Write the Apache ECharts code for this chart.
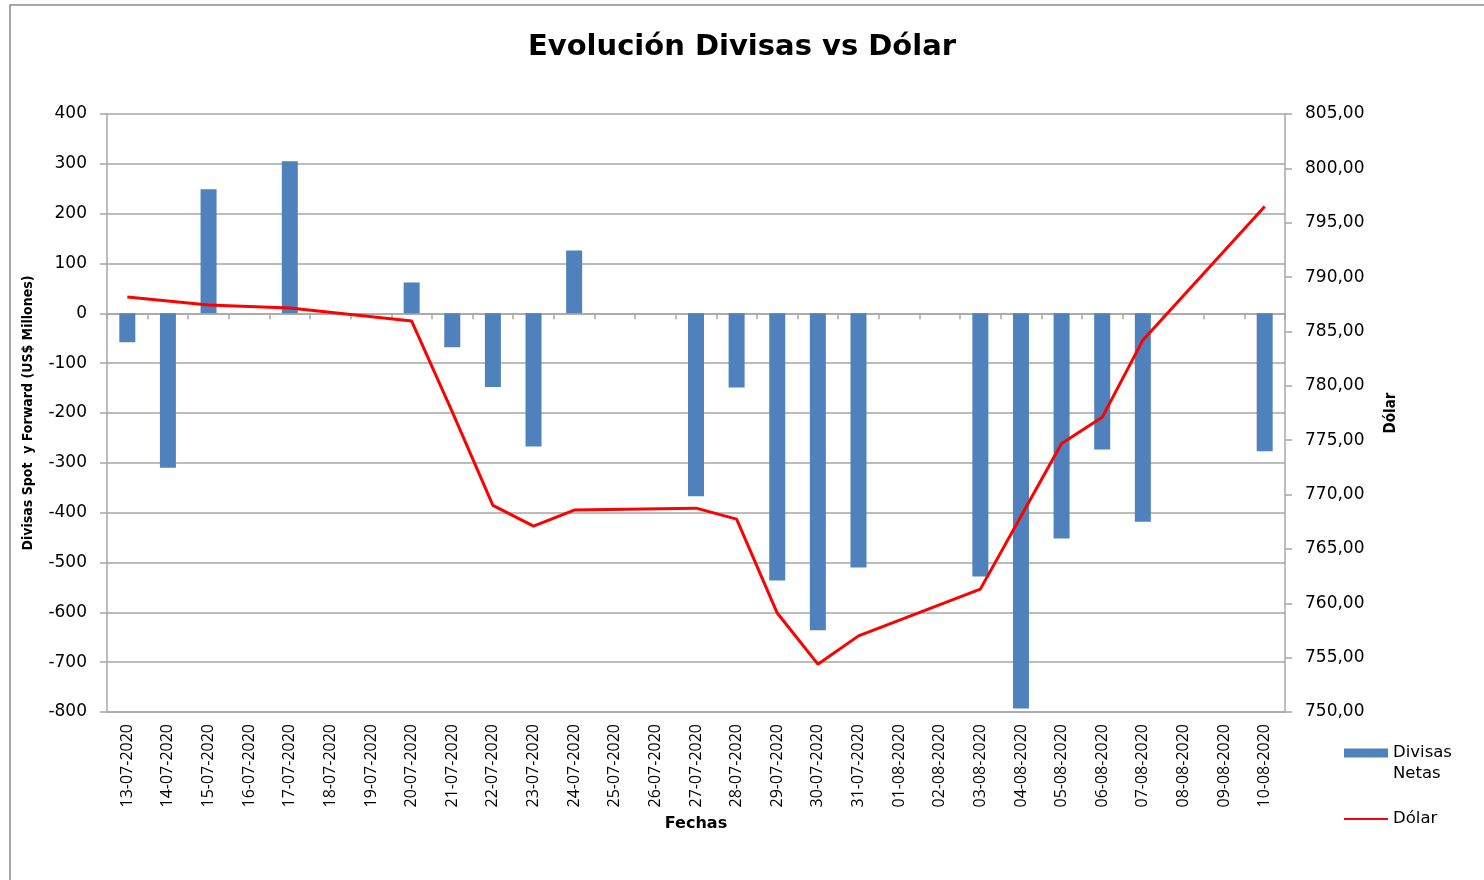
<!DOCTYPE html>
<html>
<head>
<meta charset="utf-8">
<script src="https://cdn.jsdelivr.net/npm/echarts@6/dist/echarts.min.js"></script>
<style>
  html, body { margin: 0; padding: 0; background: #fff; }
  #container { width: 1484px; height: 880px; }
</style>
</head>
<body>
<div id="container"></div>
<script>
// datos
var fechas = ['13-07-2020','14-07-2020','15-07-2020','16-07-2020','17-07-2020','18-07-2020','19-07-2020',
    '20-07-2020','21-07-2020','22-07-2020','23-07-2020','24-07-2020','25-07-2020','26-07-2020',
    '27-07-2020','28-07-2020','29-07-2020','30-07-2020','31-07-2020','01-08-2020','02-08-2020',
    '03-08-2020','04-08-2020','05-08-2020','06-08-2020','07-08-2020','08-08-2020','09-08-2020','10-08-2020'];
var divisasNetas = [-58, -310, 249, null, 305, null, null,
    62, -68, -148, -267, 126, null, null,
    -367, -149, -536, -636, -510, null, null,
    -528, -793, -452, -273, -418, null, null, -277];
var dolar = [788.17, 787.8, 787.43, null, 787.15, null, null,
    785.96, 777.6, 769.0, 767.1, 768.57, null, null,
    768.75, 767.74, 759.1, 754.4, 757.0, null, null,
    761.3, 768.0, 774.7, 777.1, 784.2, null, null, 796.5];

var gris = '#a6a6a6';
var fuente = 'DejaVu Sans';
var fuenteAngosta = '"DejaVu Sans Condensed", "Liberation Sans", sans-serif';

var myChart = echarts.init(document.getElementById('container'));
var option = {
    animation: false,
    textStyle: { fontFamily: fuente, color: '#000' },
    graphic: [
        {
            type: 'rect',
            shape: { x: 10, y: 5, width: 1490, height: 900 },
            style: { fill: 'none', stroke: '#8c8c8c', lineWidth: 1.5 },
            silent: true
        },
        {
            // segunda línea del texto de la leyenda
            type: 'text',
            left: 1393,
            top: 765,
            style: { text: 'Netas', fontFamily: fuente, fontSize: 16.5, fill: '#000' },
            silent: true
        }
    ],
    title: {
        text: 'Evolución Divisas vs Dólar',
        left: 'center',
        top: 28,
        textStyle: { fontFamily: fuente, fontWeight: 'bold', fontSize: 29, color: '#000' }
    },
    legend: {
        orient: 'vertical',
        left: 1339,
        top: 738,
        itemWidth: 44,
        itemHeight: 9,
        itemGap: 46,
        textStyle: { fontFamily: fuente, fontSize: 16.5, color: '#000', lineHeight: 20 },
        formatter: function (n) { return n === 'Divisas Netas' ? 'Divisas' : n; },
        data: [
            { name: 'Divisas Netas', icon: 'rect' },
            { name: 'Dólar', icon: 'path://M0,4 L44,4 L44,6 L0,6 Z' }
        ]
    },
    grid: { left: 107, right: 199, top: 114, bottom: 168 },
    xAxis: [
        {
            type: 'category',
            data: fechas,
            position: 'bottom',
            name: 'Fechas',
            nameLocation: 'middle',
            nameGap: 104,
            nameTextStyle: { fontFamily: fuente, fontWeight: 'bold', fontSize: 16, color: '#000' },
            axisLine: { onZero: false, lineStyle: { color: gris, width: 1.5 } },
            axisTick: { show: false },
            axisLabel: { interval: 0, rotate: 90, fontFamily: 'Open Sans', fontSize: 16, color: '#000', margin: 12 }
        },
        {
            type: 'category',
            data: fechas,
            position: 'bottom',
            axisLine: { onZero: true, lineStyle: { color: gris, width: 1.5 } },
            axisTick: { show: true, interval: 0, length: 6, lineStyle: { color: gris, width: 1.5 } },
            axisLabel: { show: false }
        }
    ],
    yAxis: [
        {
            type: 'value',
            min: -800,
            max: 400,
            interval: 100,
            name: 'Divisas Spot  y Forward (US$ Millones)',
            nameLocation: 'middle',
            nameGap: 72,
            nameTextStyle: { fontFamily: fuenteAngosta, fontWeight: 'bold', fontSize: 14, color: '#000' },
            axisLine: { show: true, lineStyle: { color: gris, width: 1.5 } },
            axisTick: { show: true, length: 7, lineStyle: { color: gris, width: 1.5 } },
            axisLabel: { fontFamily: fuente, fontSize: 17, color: '#000', margin: 20 },
            splitLine: { show: true, lineStyle: { color: gris, width: 1.5 } }
        },
        {
            type: 'value',
            min: 750,
            max: 805,
            interval: 5,
            name: 'Dólar',
            nameLocation: 'middle',
            nameGap: 99,
            nameRotate: 90,
            nameTextStyle: { fontFamily: fuenteAngosta, fontWeight: 'bold', fontSize: 15, color: '#000' },
            axisLine: { show: true, lineStyle: { color: gris, width: 1.5 } },
            axisTick: { show: true, length: 7, lineStyle: { color: gris, width: 1.5 } },
            axisLabel: {
                fontFamily: fuente, fontSize: 17, color: '#000', margin: 20,
                formatter: function (v) { return v.toFixed(2).replace('.', ','); }
            },
            splitLine: { show: false }
        }
    ],
    series: [
        {
            name: 'Divisas Netas',
            type: 'bar',
            barWidth: 16,
            itemStyle: { color: '#4f81bd' },
            data: divisasNetas
        },
        {
            name: 'Dólar',
            type: 'line',
            yAxisIndex: 1,
            connectNulls: true,
            symbol: 'none',
            lineStyle: { color: '#ff0000', width: 3 },
            itemStyle: { color: '#ff0000' },
            data: dolar
        }
    ]
};
myChart.setOption(option, true);
window.onresize = function () { myChart.resize(); };
</script>
</body>
</html>
